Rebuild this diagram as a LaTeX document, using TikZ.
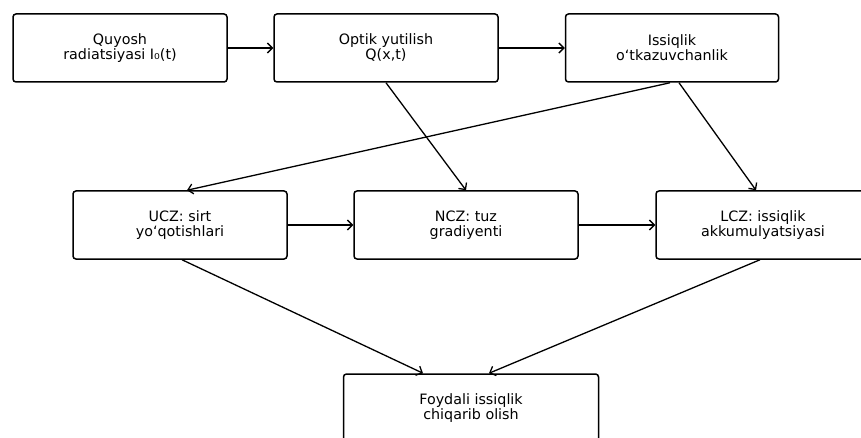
\documentclass[tikz,border=0pt]{standalone}
\usepackage{fontspec}
\setmainfont{DejaVu Sans}
\usetikzlibrary{arrows.meta}

\begin{document}
\begin{tikzpicture}[x=1pt,y=-1pt,->,>={Straight Barb[length=5pt,width=10pt]},line width=1.3pt,
    box/.style={rectangle,rounded corners=3pt,draw,line width=1.5pt,minimum height=68pt,align=center,inner sep=0pt,
      font=\fontsize{14.3}{15}\selectfont}]

\useasboundingbox (0,0) rectangle (861,438);

\node[box, minimum width=214pt] (rad) at (120,48) {Quyosh\\radiatsiyasi I₀(t)};
\node[box, minimum width=224pt] (opt) at (386,48) {Optik yutilish\\Q(x,t)};
\node[box, minimum width=213pt] (iss) at (672,48) {Issiqlik\\o‘tkazuvchanlik};
\node[box, minimum width=214pt] (ucz) at (180,225) {UCZ: sirt\\yo‘qotishlari};
\node[box, minimum width=224pt] (ncz) at (466,225) {NCZ: tuz\\gradiyenti};
\node[box, minimum width=214pt] (lcz) at (763,225) {LCZ: issiqlik\\akkumulyatsiyasi};
\node[box, minimum width=255pt] (foy) at (471,408) {Foydali issiqlik\\chiqarib olish};

\path
(rad) edge (opt)
(opt) edge (iss)
(opt.south) edge (ncz.north)
([xshift=-2pt]iss.south) edge ([xshift=7pt]ucz.north)
([xshift=7pt]iss.south) edge ([xshift=-7pt]lcz.north)
(ucz) edge (ncz)
(ncz) edge (lcz)
([xshift=2pt]ucz.south) edge ([xshift=-48pt]foy.north)
([xshift=-3pt]lcz.south) edge ([xshift=18pt]foy.north)
;

\end{tikzpicture}
\end{document}
